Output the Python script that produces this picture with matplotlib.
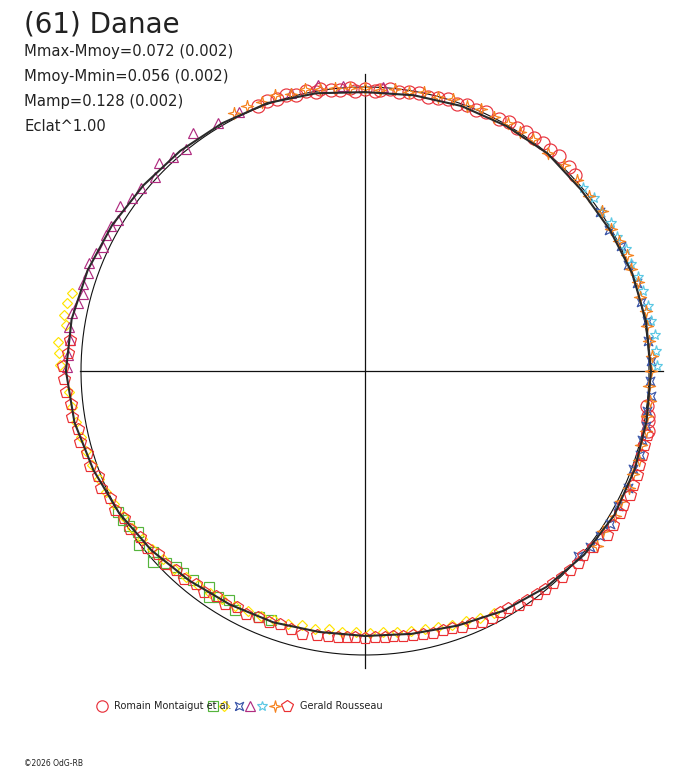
import matplotlib
matplotlib.use("Agg")
import matplotlib.pyplot as plt
import numpy as np

# ---------------- data (phase angle in deg, clockwise from top; radius relative to unit circle)
fit_ang = list(range(0, 360, 10))
fit_r = [0.982, 0.986, 0.993, 0.996, 1.000, 0.993, 0.995, 1.002, 1.005, 1.007,
         1.007, 1.011, 1.014, 1.007, 0.993, 0.975, 0.954, 0.940, 0.933, 0.933,
         0.942, 0.950, 0.963, 0.982, 1.000, 1.018, 1.039, 1.053, 1.049, 1.039,
         1.028, 1.018, 1.012, 1.007, 1.004, 0.993]

circ_ang = [338, 340, 342, 344, 346, 348, 350, 351, 353, 355, 357, 358, 0, 2, 3, 5, 7, 9,
            11, 13, 15, 17, 19, 21, 23, 25, 28, 30, 32, 34, 36, 38, 40, 42, 45, 47,
            97, 99, 100, 102]
circ_r = [1.008, 1.012, 1.006, 1.010, 1.003, 1.007, 0.999, 1.004, 0.996, 0.992, 0.997, 0.988,
          0.993, 0.986, 0.991, 0.995, 0.988, 0.993, 0.998, 0.991, 0.997, 1.000, 0.995, 1.003,
          0.998, 1.008, 1.006, 1.012, 1.010, 1.016, 1.014, 1.020, 1.016, 1.020, 1.015, 1.012,
          1.001, 1.008, 1.013, 1.017]

sq_ang = [240.3, 238.4, 236.7, 234.7, 232.4, 229.5, 228.0, 226.0, 224.0, 222.0, 219.5,
          215.8, 214.6, 213.0, 210.7, 208.5, 203.3, 200.7]
sq_r = [1.001, 1.001, 0.994, 0.980, 1.004, 0.982, 1.005, 0.974, 0.959, 0.957, 0.953,
        0.938, 0.967, 0.949, 0.938, 0.958, 0.943, 0.937]

dia_ang = [271.1, 273.4, 275.4, 278.7, 280.5, 282.9, 284.9,
           152, 155, 158, 161, 164, 167, 170, 173, 176, 179, 182, 185, 188, 191, 194, 197,
           200, 203, 206, 209, 212, 215, 218, 221, 224, 227, 230, 233, 236, 239, 242, 245,
           248, 251, 254, 257, 260, 263, 266]
dia_r = [1.074, 1.079, 1.086, 1.065, 1.078, 1.076, 1.068,
         0.965, 0.958, 0.950, 0.946, 0.937, 0.934, 0.929, 0.926, 0.922, 0.924, 0.918, 0.922,
         0.919, 0.924, 0.921, 0.930, 0.932, 0.938, 0.940, 0.946, 0.948, 0.954, 0.957, 0.963,
         0.967, 0.973, 0.977, 0.983, 0.990, 0.994, 1.001, 1.006, 1.012, 1.016, 1.022, 1.028,
         1.034, 1.040, 1.044]

blue_ang = [56, 60, 64, 68, 72, 76, 80, 84, 88, 92, 95, 98, 101, 104, 107, 110, 114, 118,
            122, 125, 128, 131]
blue_r = [0.999, 0.994, 1.003, 0.998, 1.006, 1.000, 1.008, 1.002, 1.009, 1.004, 1.010, 1.003,
          1.009, 1.004, 1.011, 1.006, 1.014, 1.009, 1.016, 1.011, 1.004, 0.995]

tri_ang = [270.8, 273.1, 276.0, 278.5, 281.2, 283.3, 285.3, 287.1, 289.5, 291.4, 293.7,
           295.3, 297.7, 299.7, 301.4, 304.0, 306.6, 309.2, 312.7, 315.3, 318.1, 321.1,
           324.1, 329.3, 334.1, 345.0, 350.7, 355.6, 3.6]
tri_r = [1.049, 1.047, 1.044, 1.054, 1.052, 1.038, 1.029, 1.039, 1.035, 1.044, 1.034,
         1.021, 1.030, 1.030, 1.019, 1.040, 1.022, 1.018, 1.007, 1.031, 1.012, 1.004,
         1.034, 1.015, 1.014, 1.012, 1.020, 1.006, 1.002]

cyan_ang = [50, 53, 56, 59, 62, 65, 68, 71, 74, 77, 80, 83, 86, 89]
cyan_r = [1.002, 1.010, 1.004, 1.012, 1.006, 1.014, 1.010, 1.016, 1.020, 1.024, 1.022,
          1.030, 1.026, 1.028]

orng_ang = [333, 336, 339, 342, 345, 348, 351, 354, 357, 0, 3, 6, 9, 12, 15, 18, 21, 24, 27,
            30, 33, 36, 40, 44, 48, 52, 56, 60, 63, 66, 69, 72, 75, 78, 81, 84, 87, 90, 93,
            96, 99, 102, 105, 108, 111, 114, 117, 120, 124, 127]
orng_r = [1.018, 1.022, 1.014, 1.020, 1.010, 1.016, 1.005, 1.002, 0.998, 0.996, 0.992, 1.000,
          0.995, 1.003, 0.998, 1.006, 1.000, 1.008, 1.004, 1.010, 1.003, 1.009, 1.004, 1.010,
          1.003, 1.000, 1.006, 0.999, 1.005, 1.008, 1.002, 1.009, 1.004, 1.010, 1.006, 1.004,
          1.011, 1.006, 1.003, 1.009, 1.005, 1.012, 1.006, 1.013, 1.009, 1.016, 1.012, 1.018,
          1.010, 1.024]

pent_ang = [102.8, 104.9, 106.9, 108.9, 110.9, 113.0, 115.1, 117.4, 119.1, 121.8, 124.1,
            127.7, 130.2, 132.0, 134.2, 136.3, 138.4, 140.5, 142.4, 144.7, 146.7, 148.9,
            150.7, 152.8, 155.0, 157.0, 159.2, 161.3, 163.2,
            165.4, 167.6, 169.7, 171.8, 174.0, 175.7, 177.8, 180.0, 182.2, 183.9, 185.8,
            187.9, 190.3, 193.5,
            196, 198.5, 201, 203.5, 206, 208.5, 211, 213.5, 216, 218.5, 221, 223.5, 226,
            228.5, 231, 233.5, 236, 238.5, 241, 243.5, 246, 248.5, 251, 253.5, 256, 258.5,
            261, 263.5, 266, 268.5, 271, 273.5, 276]
pent_r = [1.018, 1.016, 1.019, 1.020, 1.025, 1.025, 1.030, 1.024, 1.028, 1.028, 1.029,
          1.014, 1.005, 1.010, 1.006, 1.004, 0.998, 0.995, 0.992, 0.988, 0.986, 0.975,
          0.973, 0.978, 0.975, 0.964, 0.964, 0.955, 0.952,
          0.953, 0.948, 0.945, 0.943, 0.938, 0.939, 0.937, 0.940, 0.937, 0.939, 0.941,
          0.942, 0.945, 0.952,
          0.944, 0.940, 0.948, 0.943, 0.952, 0.947, 0.957, 0.952, 0.963, 0.958, 0.970,
          0.966, 0.979, 0.975, 0.989, 0.985, 0.998, 0.994, 1.007, 1.003, 1.016, 1.012,
          1.025, 1.022, 1.035, 1.033, 1.044, 1.041, 1.056, 1.060, 1.062, 1.048, 1.044]

title = "(61) Danae"
info_lines = ["Mmax-Mmoy=0.072 (0.002)", "Mmoy-Mmin=0.056 (0.002)",
              "Mamp=0.128 (0.002)", "Eclat^1.00"]
first_obs = "Romain Montaigut et al."
last_obs = "Gerald Rousseau"
copyright_txt = "\u00a92026 OdG-RB"

# ---------------- markers
concave_sq = [(-1, -1), (0, -0.5), (1, -1), (0.5, 0), (1, 1), (0, 0.5), (-1, 1), (-0.5, 0), (-1, -1)]
star4 = [(0, 1), (0.2, 0.2), (1, 0), (0.2, -0.2), (0, -1), (-0.2, -0.2), (-1, 0), (-0.2, 0.2), (0, 1)]

series = [
    (circ_ang, circ_r, "o", "#e8323c", 9.4),
    (sq_ang, sq_r, "s", "#55b43c", 7.2),
    (dia_ang, dia_r, "D", "#ffe400", 5.6),
    (blue_ang, blue_r, concave_sq, "#3a55a8", 6.3),
    (tri_ang, tri_r, "^", "#b02c80", 7.4),
    (cyan_ang, cyan_r, "*", "#5cc8e4", 8.0),
    (orng_ang, orng_r, star4, "#f5821e", 8.8),
    (pent_ang, pent_r, "p", "#ea2f32", 8.9),
]


def to_xy(ang, r):
    a = np.radians(np.asarray(ang, dtype=float))
    r = np.asarray(r, dtype=float)
    return r * np.sin(a), r * np.cos(a)


W, H = 688, 768
CX, CY, R = 365, 371, 284.0
fig = plt.figure(figsize=(W / 100, H / 100), dpi=100)
ax = fig.add_axes([0, 0, 1, 1])
ax.set_xlim(-CX / R, (W - CX) / R)
ax.set_ylim(-(H - CY) / R, CY / R)
ax.axis("off")

# axes cross and unit circle
ax.plot([-1.004, 1.049], [0, 0], color="#111111", lw=0.9, zorder=1)
ax.plot([0, 0], [-1.046, 1.046], color="#111111", lw=0.9, zorder=1)
t = np.linspace(0, 2 * np.pi, 400)
ax.plot(np.cos(t), np.sin(t), color="#111111", lw=0.8, zorder=1)

for ang, r, mk, col, ms in series:
    x, y = to_xy(ang, r)
    ax.plot(x, y, ls="none", marker=mk, ms=ms, mfc="none", mec=col, mew=0.85, zorder=2)

fx, fy = to_xy(fit_ang + [fit_ang[0]], fit_r + [fit_r[0]])
ax.plot(fx, fy, color="#2a2a2a", lw=1.5, zorder=3)

# ---------------- texts
def fxy(px, py):
    return px / W, 1 - py / H

tc = "#222222"
fig.text(*fxy(24, 33), title, fontsize=20, color=tc, va="baseline")
for i, line in enumerate(info_lines):
    fig.text(*fxy(24, 56 + i * 24.9), line, fontsize=10.6, color=tc, va="baseline")

# legend row
leg_y = 705.5
fig.lines.append(plt.Line2D([102 / W], [1 - leg_y / H], transform=fig.transFigure, ls="none",
                            marker="o", ms=8.2, mfc="none", mec=series[0][3], mew=0.85))
fig.text(*fxy(114, 709), first_obs, fontsize=7, color=tc, va="baseline")
leg_x = [213, 224, 239, 250, 262, 275, 287]
for (ang, r, mk, col, ms), lx in zip(series[1:], leg_x):
    fig.lines.append(plt.Line2D([lx / W], [1 - leg_y / H], transform=fig.transFigure, ls="none",
                                marker=mk, ms=ms * 0.95, mfc="none", mec=col, mew=0.85))
fig.text(*fxy(300, 709), last_obs, fontsize=7, color=tc, va="baseline")

fig.text(*fxy(24, 766), copyright_txt, fontsize=5.5, color=tc, va="baseline")

fig.savefig("out.png", dpi=100)
